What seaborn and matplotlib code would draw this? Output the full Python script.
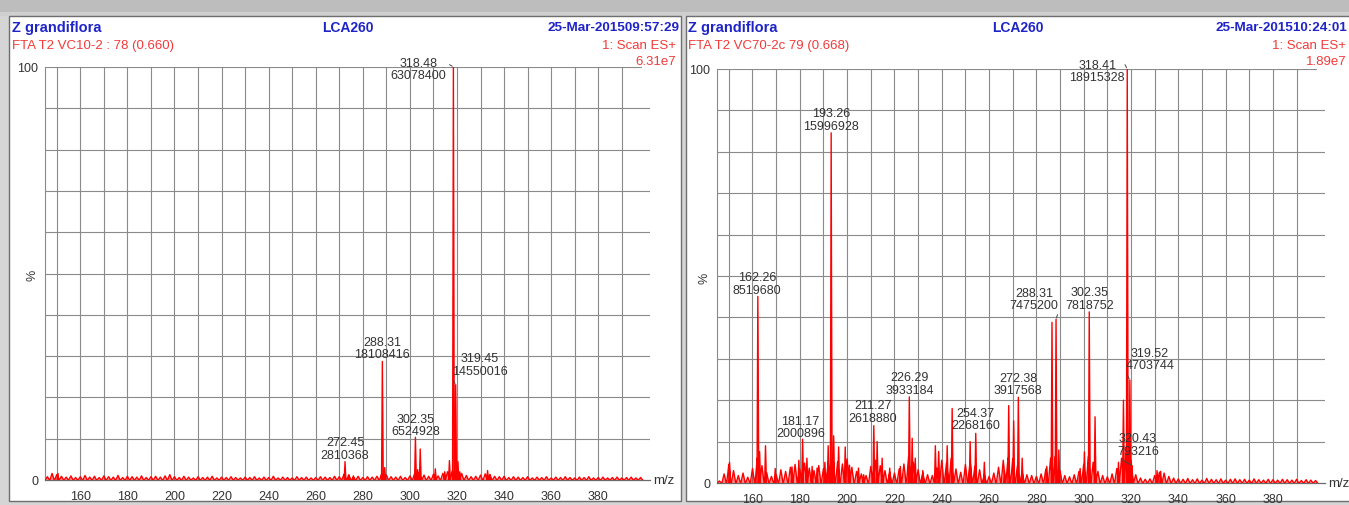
import numpy as np
import pandas as pd
import matplotlib
matplotlib.use("Agg")
import matplotlib.pyplot as plt
from matplotlib.patches import Rectangle
import seaborn as sns

# ---------------- data ----------------
# left spectrum (VC10-2)
left_label_mz = [318.48, 288.31, 319.45, 302.35, 272.45]
left_label_int = [63078400, 18108416, 14550016, 6524928, 2810368]
left_minor_mz = [320.4, 321.2, 316.8, 314.8, 310.8, 304.4, 303.3, 289.3,
                 274.2, 276.0, 333.0, 334.0, 150.5]
left_minor_pct = [4.5, 2.0, 4.7, 2.0, 2.7, 7.5, 2.5, 3.0,
                  1.2, 1.0, 2.3, 1.2, 1.6]
grass_mz = np.arange(146, 400, 2)
left_grass_pct = [
    0.8, 1.6, 1.3, 0.9, 0.7, 1.0, 0.6, 0.8, 1.1, 0.7,
    0.9, 0.6, 1.0, 0.8, 0.7, 1.1, 0.6, 0.9, 0.8, 0.7,
    1.0, 0.6, 0.8, 0.9, 0.7, 1.0, 1.3, 0.8, 0.6, 0.9,
    0.7, 0.5, 0.8, 0.6, 0.7, 0.9, 0.5, 0.7, 0.6, 0.8,
    0.6, 0.5, 0.7, 0.6, 0.8, 0.5, 0.7, 0.6, 0.9, 0.5,
    0.7, 0.6, 0.5, 0.8, 0.6, 0.7, 0.5, 0.6, 0.8, 0.7,
    0.6, 0.9, 0.8, 1.4, 1.2, 0.7, 0.9, 0.6, 0.8, 0.7,
    0.9, 1.5, 1.2, 0.8, 0.7, 0.9, 0.6, 1.0, 1.5, 1.8,
    1.2, 0.9, 1.4, 1.0, 1.6, 2.0, 2.2, 2.5, 1.6, 1.1,
    0.8, 0.9, 1.2, 1.5, 1.3, 0.9, 0.8, 0.9, 0.6, 0.8,
    0.7, 0.6, 0.8, 0.5, 0.7, 0.6, 0.8, 0.5, 0.7, 0.6,
    0.8, 0.6, 0.5, 0.7, 0.6, 0.8, 0.5, 0.6, 0.7, 0.5,
    0.6, 0.7, 0.5, 0.6, 0.7, 0.5, 0.6]

# right spectrum (VC70-2c)
right_label_mz = [318.41, 193.26, 162.26, 302.35, 288.31, 319.52, 226.29,
                  272.38, 211.27, 254.37, 181.17, 320.43]
right_label_int = [18915328, 15996928, 8519680, 7818752, 7475200, 4703744,
                   3933184, 3917568, 2618880, 2268160, 2000896, 793216]
right_minor_mz = [316.8, 314.7, 304.8, 300.3, 298.5, 286.6, 284.4, 289.5,
                  270.4, 268.3, 274.0, 266.5, 252.0, 258.0, 244.4, 242.3,
                  238.7, 237.3, 232.0, 227.5, 228.8, 222.5, 218.0, 212.7,
                  214.8, 207.0, 204.8, 201.0, 199.2, 196.4, 194.3, 192.0,
                  190.6, 187.3, 185.2, 183.0, 179.6, 176.7, 169.6, 165.5,
                  163.0, 150.3, 331.0, 332.5]
right_minor_pct = [20.0, 5.0, 16.0, 7.5, 3.5, 38.8, 4.0, 8.0,
                   15.0, 18.7, 6.0, 3.0, 10.0, 5.0, 18.0, 9.0,
                   7.6, 9.0, 3.0, 10.8, 6.0, 4.0, 3.6, 10.0,
                   6.0, 2.0, 3.6, 4.3, 8.7, 8.7, 11.4, 9.0,
                   5.0, 3.6, 4.0, 6.0, 5.5, 3.9, 3.5, 9.0,
                   7.6, 5.0, 3.0, 2.8]
right_grass_pct = [
    0.5, 2.2, 4.5, 3.0, 1.8, 2.4, 1.4, 3.5, 6.0, 4.2,
    2.5, 1.6, 2.0, 3.2, 2.8, 3.8, 4.5, 3.4, 4.8, 3.6,
    3.0, 4.2, 3.5, 5.0, 6.5, 5.2, 4.6, 5.8, 3.8, 2.8,
    2.2, 1.8, 4.0, 5.5, 4.2, 3.0, 2.6, 2.4, 3.4, 4.6,
    6.5, 5.0, 3.2, 2.4, 2.0, 1.8, 3.6, 5.5, 4.8, 6.0,
    3.4, 2.6, 4.5, 5.2, 4.0, 3.2, 2.0, 1.6, 2.4, 3.8,
    5.5, 6.0, 5.8, 4.2, 2.6, 2.0, 1.8, 1.6, 2.2, 3.4,
    6.0, 6.5, 3.0, 1.8, 1.5, 2.0, 2.8, 4.5, 6.5, 5.0,
    2.8, 1.8, 1.5, 2.2, 3.5, 6.0, 8.0, 5.5, 2.0, 1.2,
    0.9, 1.0, 1.8, 2.6, 2.4, 1.6, 1.2, 1.0, 0.9, 1.1,
    0.8, 1.0, 0.7, 1.1, 0.9, 0.8, 1.0, 0.7, 0.9, 1.0,
    0.8, 0.9, 0.7, 1.0, 0.8, 0.7, 0.9, 0.8, 0.7, 0.9,
    0.8, 0.7, 0.9, 0.6, 0.8, 0.7, 0.6]

x_tick_labels = [160, 180, 200, 220, 240, 260, 280, 300, 320, 340, 360, 380]

left_header = ["Z grandiflora", "LCA260", "25-Mar-201509:57:29",
               "FTA T2 VC10-2 : 78 (0.660)", "1: Scan ES+", "6.31e7"]
right_header = ["Z grandiflora", "LCA260", "25-Mar-201510:24:01",
                "FTA T2 VC70-2c 79 (0.668)", "1: Scan ES+", "1.89e7"]

# ---------------- styling / layout ----------------
sns.set_theme(style="white")
plt.rcParams["font.family"] = ["Liberation Sans", "DejaVu Sans"]

W, H = 1349, 506
BLUE = "#1f24c8"
RED_T = "#f23a3a"
RED = "#ff0000"
GRID = "#8a8a8a"
TXT = "#333333"

fig = plt.figure(figsize=(W / 100, H / 100), dpi=100, facecolor="#d5d5d5")


def frect(x0, y0, x1, y1, **kw):
    fig.add_artist(Rectangle((x0 / W, 1 - y1 / H), (x1 - x0) / W, (y1 - y0) / H,
                             transform=fig.transFigure, **kw))


# outer frame
frect(0, 0, W, 13, facecolor="#bdbdbd", edgecolor="none", zorder=0)
frect(0, 13, W, 17, facecolor="#cfcfcf", edgecolor="none", zorder=0)
# panels
frect(9, 17, 681, 502, facecolor="white", edgecolor="#6e6e6e", lw=1.0, zorder=0)
frect(686, 17, 1360, 502, facecolor="white", edgecolor="#6e6e6e", lw=1.0, zorder=0)


def header(texts, xl, xc, xr, xs, xv):
    fig.text(xl / W, 1 - 28 / H, texts[0], color=BLUE, fontsize=10.5,
             fontweight="bold", ha="left", va="center")
    fig.text(xc / W, 1 - 28 / H, texts[1], color=BLUE, fontsize=10,
             fontweight="bold", ha="center", va="center")
    fig.text(xr / W, 1 - 28 / H, texts[2], color=BLUE, fontsize=9.7,
             fontweight="bold", ha="right", va="center")
    fig.text(xl / W, 1 - 46 / H, texts[3], color=RED_T, fontsize=9.5,
             ha="left", va="center")
    fig.text(xs / W, 1 - 46 / H, texts[4], color=RED_T, fontsize=9.5,
             ha="right", va="center")
    fig.text(xv / W, 1 - 62 / H, texts[5], color=RED_T, fontsize=9.5,
             ha="right", va="center")


header(left_header, 12, 348, 680, 676, 676)
header(right_header, 688, 1018, 1347, 1346, 1347)


def draw_spectrum(ax, label_mz, label_int, minor_mz, minor_pct, grass_pct,
                  label_style):
    base = max(label_int)
    label_pct = [v / base * 100 for v in label_int]
    mz = list(label_mz) + list(minor_mz) + list(grass_mz)
    pct = label_pct + list(minor_pct) + list(grass_pct)
    half = [0.35] * (len(label_mz) + len(minor_mz)) + [0.9] * len(grass_mz)
    xs, ys = [], []
    for i in np.argsort(mz, kind="stable"):
        xs += [mz[i] - half[i], mz[i], mz[i] + half[i]]
        ys += [0, pct[i], 0]
    df = pd.DataFrame({"mz": xs, "pct": ys})
    ax.fill_between(df["mz"], df["pct"], 0, color=RED, alpha=0.45, lw=0,
                    zorder=2)
    sns.lineplot(data=df, x="mz", y="pct", sort=False, estimator=None,
                 color=RED, lw=1.0, ax=ax, zorder=3)

    ax.set_xlim(145, 402)
    ax.set_ylim(0, 100)
    ax.set_facecolor("none")
    for s in ["top", "right"]:
        ax.spines[s].set_visible(False)
    ax.spines["left"].set_color(GRID)
    ax.spines["left"].set_linewidth(0.8)
    ax.spines["bottom"].set_color("#6a6a6a")
    ax.spines["bottom"].set_linewidth(0.9)
    for v in range(150, 391, 10):
        ax.axvline(v, color=GRID, lw=0.8, zorder=1)
    for h in range(10, 100, 10):
        ax.axhline(h, color=GRID, lw=0.8, zorder=1)
    ax.axhline(100, xmax=0.985, color=GRID, lw=0.8, zorder=1)

    ax.set_xticks(x_tick_labels)
    ax.set_xticklabels([str(t) for t in x_tick_labels])
    ax.set_xticks(np.arange(146, 401, 2), minor=True)
    ax.tick_params(axis="x", which="major", length=5, width=0.8, color="#6a6a6a",
                   labelsize=9, labelcolor=TXT, pad=2, direction="out")
    ax.tick_params(axis="x", which="minor", length=2.5, width=0.7,
                   color="#8a8a8a", direction="out")
    ax.set_yticks(range(0, 101, 10))
    ax.set_yticklabels(["0", "", "", "", "", "%", "", "", "", "", "100"])
    ax.tick_params(axis="y", length=4, width=0.8, color="#6a6a6a", labelsize=9,
                   labelcolor=TXT, pad=1)
    ax.get_yticklabels()[5].set_rotation(90)
    ax.set_xlabel("")
    ax.set_ylabel("")
    ax.text(1.006, 0.0, "m/z", transform=ax.transAxes, fontsize=9.5,
            color=TXT, ha="left", va="center")

    for m, v, p in zip(label_mz, label_int, label_pct):
        dx, dy, rel = label_style.get(m, (0, 1, None))
        kw = {}
        if rel is not None:
            kw["arrowprops"] = dict(arrowstyle="-", color="#444444", lw=0.7,
                                    relpos=rel, shrinkA=0, shrinkB=1)
        ax.annotate(f"{m:.2f}\n{v}", xy=(m, p), xytext=(dx, dy),
                    textcoords="offset pixels", ha="center", va="bottom",
                    fontsize=9, color=TXT, linespacing=1.05,
                    annotation_clip=False, zorder=5, **kw)


left_style = {318.48: (-35, -14, (1.0, 0.75)),
              319.45: (24, 8, (0.0, 0.0)),
              302.35: (0, 0, None)}
right_style = {318.41: (-30, -14, (1.0, 0.75)),
               288.31: (-22, 8, (1.0, 0.0)),
               319.52: (20, 9, (0.0, 0.0)),
               320.43: (6, 9, (0.0, 0.0)),
               211.27: (-1, 2, None),
               254.37: (0, 2, None),
               181.17: (-2, 0, None),
               162.26: (-1, 1, None)}

axL = fig.add_axes([45 / W, 1 - 481 / H, 605 / W, 413 / H])
draw_spectrum(axL, left_label_mz, left_label_int, left_minor_mz,
              left_minor_pct, left_grass_pct, left_style)

axR = fig.add_axes([717 / W, 1 - 484 / H, 608 / W, 414 / H])
draw_spectrum(axR, right_label_mz, right_label_int, right_minor_mz,
              right_minor_pct, right_grass_pct, right_style)

fig.savefig("out.png", dpi=100, facecolor=fig.get_facecolor())
